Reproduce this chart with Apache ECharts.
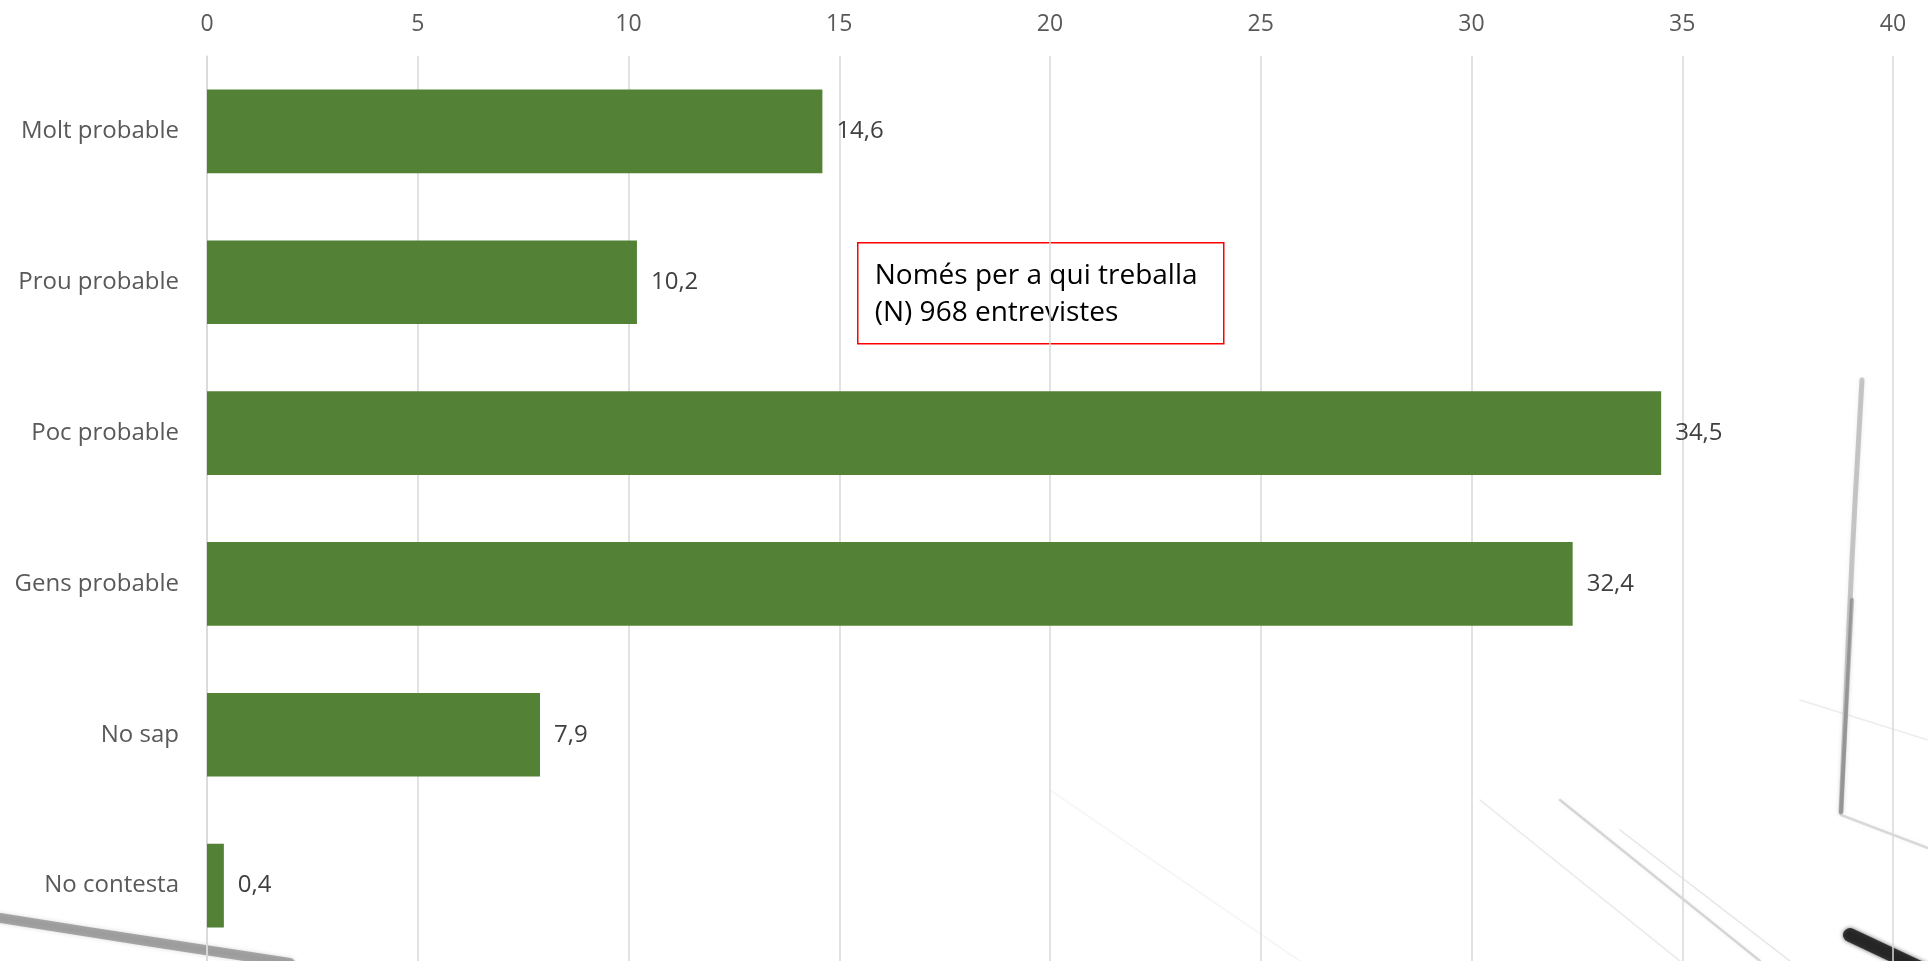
<!DOCTYPE html>
<html>
<head>
<meta charset="utf-8">
<script src="https://cdn.jsdelivr.net/npm/echarts@6/dist/echarts.min.js"></script>
<style>
  html,body{margin:0;padding:0;background:#fff;}
  #chart{width:1928px;height:961px;}
</style>
</head>
<body>
<div id="chart"></div>
<script>
// categories (top to bottom) and values, percent
const categories = ['Molt probable','Prou probable','Poc probable','Gens probable','No sap','No contesta'];
const values = [14.6, 10.2, 34.5, 32.4, 7.9, 0.4];
const noteLines = ['Només per a qui treballa', '(N) 968 entrevistes'];

const chart = echarts.init(document.getElementById('chart'));
const fontFam = '"Open Sans", "Noto Sans", sans-serif';

// faint sketch strokes of the slide background (decoration only)
const sketch = [
  {pts: [[1862, 380], [1852, 560], [1841, 812]], w: 5, c: 'rgba(110,110,110,0.35)'},
  {pts: [[1852, 600], [1841, 812]], w: 4, c: 'rgba(80,80,80,0.35)'},
  {pts: [[1841, 815], [1928, 848]], w: 2.5, c: 'rgba(140,140,140,0.3)'},
  {pts: [[1800, 700], [1928, 740]], w: 1.5, c: 'rgba(170,170,170,0.2)'},
  {pts: [[0, 918], [140, 940], [290, 963]], w: 10, c: 'rgba(80,80,80,0.45)'},
  {pts: [[1850, 935], [1935, 975]], w: 14, c: 'rgba(20,20,20,0.8)'},
  {pts: [[1480, 800], [1680, 961]], w: 1.5, c: 'rgba(160,160,160,0.22)'},
  {pts: [[1560, 800], [1760, 961]], w: 2.5, c: 'rgba(120,120,120,0.28)'},
  {pts: [[1620, 830], [1790, 961]], w: 1.5, c: 'rgba(140,140,140,0.22)'},
  {pts: [[1050, 790], [1300, 961]], w: 1.2, c: 'rgba(180,180,180,0.15)'}
];

const option = {
  backgroundColor: '#ffffff',
  animation: false,
  grid: {left: 207, right: 35, top: 56, bottom: -2},
  xAxis: {
    type: 'value',
    position: 'top',
    min: 0,
    max: 40,
    interval: 5,
    axisLine: {show: false},
    axisTick: {show: false},
    axisLabel: {color: '#595959', fontSize: 23, fontFamily: fontFam, margin: 20},
    splitLine: {show: true, lineStyle: {color: '#d9d9d9', width: 1.5}}
  },
  yAxis: {
    type: 'category',
    inverse: true,
    data: categories,
    axisLine: {show: true, lineStyle: {color: '#d9d9d9', width: 1.5}},
    axisTick: {show: false},
    axisLabel: {color: '#595959', fontSize: 24, fontFamily: fontFam, margin: 28}
  },
  series: [{
    type: 'bar',
    data: values,
    barWidth: '55.5%',
    itemStyle: {color: '#538135'},
    label: {
      show: true,
      position: 'right',
      distance: 14,
      color: '#404040',
      fontSize: 24,
      fontFamily: fontFam,
      formatter: p => String(p.value.toFixed(1)).replace('.', ',')
    }
  }],
  graphic: sketch.map(s => ({
    type: 'polyline',
    z: -10,
    silent: true,
    shape: {points: s.pts, smooth: 0.4},
    style: {stroke: s.c, lineWidth: s.w, fill: null, lineCap: 'round',
            shadowBlur: 4, shadowColor: s.c}
  })).concat([{
    type: 'group',
    left: 857,
    top: 242,
    children: [{
      type: 'rect',
      shape: {x: 0, y: 0, width: 366, height: 101},
      style: {fill: '#ffffff', stroke: '#ff0000', lineWidth: 1.5}
    }, {
      type: 'text',
      x: 17,
      y: 15,
      style: {
        text: noteLines.join('\n'),
        fill: '#000000',
        fontSize: 28,
        lineHeight: 37,
        fontFamily: fontFam
      }
    }]
  }])
};
chart.setOption(option);
</script>
</body>
</html>
